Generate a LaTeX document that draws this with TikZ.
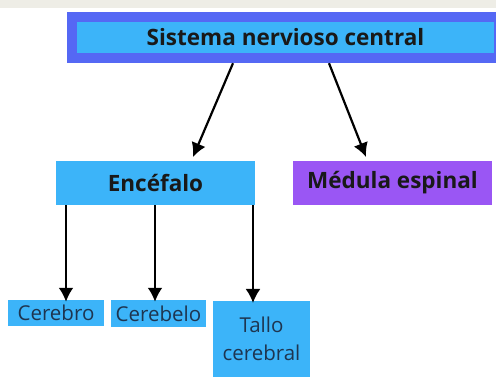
\documentclass[tikz,border=0pt]{standalone}
\usepackage{fontspec}
\setmainfont{Open Sans}
\usetikzlibrary{arrows.meta}
\definecolor{band}{HTML}{EEEDE6}
\definecolor{snc}{HTML}{5568F4}
\definecolor{celeste}{HTML}{3CB4F9}
\definecolor{morado}{HTML}{9A56F4}
\definecolor{texto}{HTML}{1E3550}
\tikzstyle{arrow} = [line width=2.2pt,-{Latex[length=14pt,width=15pt]}]
\tikzstyle{caja} = [fill=celeste, inner sep=0pt, text=black!90, font=\bfseries\fontsize{22.5}{26}\selectfont]
\tikzstyle{hoja} = [fill=celeste, inner sep=0pt, text=texto, font=\fontsize{20.5}{28}\selectfont, align=center]

\begin{document}
\begin{tikzpicture}[x=1pt,y=-1pt]

\useasboundingbox (0,0) rectangle (496,377);
\fill[band] (0,0) rectangle (496,8);

% nivel superior
\node[fill=snc, inner sep=0pt, minimum width=429pt, minimum height=51pt] (borde) at (281.5,37.5) {};
\node[caja, minimum width=417pt, minimum height=31pt] (snc) at (285.5,37.5) {Sistema nervioso central};

% segundo nivel
\node[caja, minimum width=199pt, minimum height=44pt] (enc) at (155.5,183) {Encéfalo};
\node[caja, fill=morado, minimum width=199pt, minimum height=44pt] (med) at (392.5,183) {Médula espinal};

% tercer nivel
\node[hoja, minimum width=96pt, minimum height=26pt] (cbro) at (56,313) {Cerebro};
\node[hoja, minimum width=95pt, minimum height=27pt] (cblo) at (158.5,313.5) {Cerebelo};
\node[hoja, minimum width=97pt, minimum height=76pt, anchor=north] (tallo) at (261.5,301) {Tallo\\cerebral};

\coordinate (a1) at (borde.south -| 233,0);
\coordinate (a2) at (borde.south -| 329,0);
\coordinate (p1) at (193,157);
\coordinate (p2) at (366,157);
\draw[arrow] (a1) -- (p1);
\draw[arrow] (a2) -- (p2);

\draw[arrow] (enc.south -| 66,0) -- ([yshift=-2pt]cbro.north -| 66,0);
\draw[arrow] (enc.south -| 155,0) -- ([yshift=-2pt]cblo.north -| 155,0);
\draw[arrow] (enc.south -| 253,0) -- ([yshift=-2pt]tallo.north -| 253,0);

\end{tikzpicture}
\end{document}
